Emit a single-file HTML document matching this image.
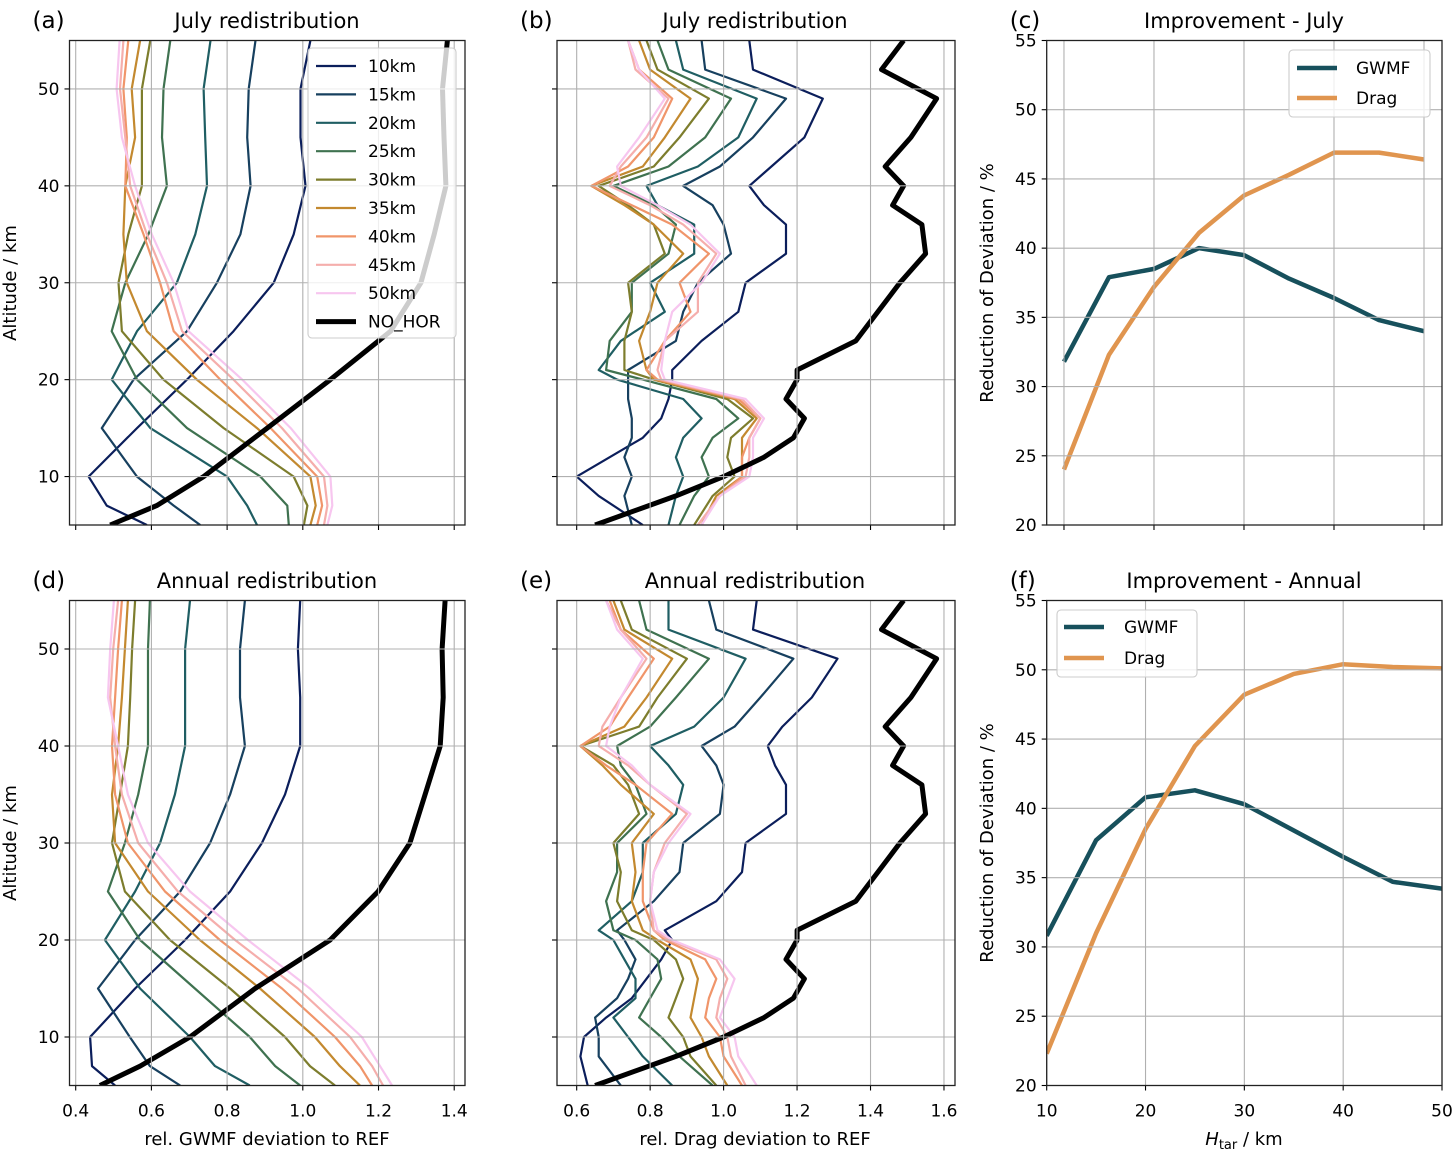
<!DOCTYPE html>
<html><head><meta charset="utf-8"><style>
html,body{margin:0;padding:0;background:#fff;}
svg{display:block;font-family:"DejaVu Sans","Liberation Sans",sans-serif;}
</style></head><body>
<svg id="fig" width="1454" height="1149" viewBox="0 0 1454 1149" xmlns="http://www.w3.org/2000/svg"></svg>
<script>
// ---- data ----
const altA = [5,7,10,15,20,25,30,35,40,45,50,55];
const altB = [5,8,10,12,14,16,18,20,21,24,27,30,33,36,38,40,42,45,49,52,55];
const htarLabels = ["10km","15km","20km","25km","30km","35km","40km","45km","50km"];
const colors = ["#0b1e5b","#17405f","#1f5e63","#3f7250","#7d7d2d","#c3892f","#f0956a","#f5aeac","#f7c6ef"];
// (a) July GWMF
const a10=[0.588,0.482,0.434,0.562,0.694,0.817,0.923,0.976,1.007,0.994,0.994,1.02];
const a15=[0.729,0.659,0.562,0.469,0.553,0.694,0.773,0.835,0.862,0.853,0.857,0.875];
const a20=[0.879,0.853,0.80,0.597,0.495,0.562,0.667,0.716,0.747,0.742,0.738,0.756];
const a25=[0.963,0.959,0.888,0.694,0.562,0.495,0.531,0.592,0.641,0.628,0.632,0.650];
const a30=[1.003,1.012,0.976,0.791,0.632,0.522,0.513,0.539,0.575,0.575,0.575,0.597];
const a35=[1.020,1.034,1.020,0.879,0.720,0.588,0.535,0.526,0.531,0.557,0.548,0.570];
const a40=[1.038,1.051,1.038,0.915,0.782,0.659,0.623,0.579,0.531,0.535,0.526,0.539];
const a45=[1.056,1.065,1.056,0.945,0.817,0.681,0.641,0.588,0.544,0.531,0.517,0.526];
const a50=[1.065,1.078,1.073,0.968,0.840,0.698,0.659,0.601,0.557,0.522,0.508,0.516];
const aNo=[0.491,0.614,0.738,0.906,1.073,1.232,1.312,1.347,1.378,1.373,1.369,1.382];
// (d) Annual GWMF
const d10=[0.504,0.443,0.438,0.557,0.689,0.808,0.892,0.953,0.993,0.993,0.987,0.993];
const d15=[0.676,0.596,0.543,0.459,0.557,0.676,0.755,0.808,0.847,0.834,0.834,0.847];
const d20=[0.860,0.768,0.702,0.570,0.477,0.557,0.623,0.662,0.689,0.689,0.689,0.702];
const d25=[0.993,0.927,0.860,0.715,0.570,0.485,0.530,0.565,0.591,0.591,0.591,0.596];
const d30=[1.085,1.019,0.953,0.808,0.649,0.530,0.496,0.517,0.538,0.544,0.549,0.557];
const d35=[1.151,1.098,1.032,0.887,0.728,0.591,0.504,0.496,0.512,0.522,0.530,0.538];
const d40=[1.183,1.151,1.085,0.945,0.781,0.636,0.538,0.504,0.496,0.504,0.512,0.522];
const d45=[1.212,1.183,1.125,0.987,0.821,0.670,0.565,0.522,0.504,0.491,0.499,0.512];
const d50=[1.236,1.204,1.156,1.019,0.855,0.702,0.591,0.538,0.512,0.485,0.491,0.501];
const dNo=[0.464,0.570,0.702,0.874,1.072,1.199,1.283,1.323,1.363,1.371,1.368,1.376];
// (b) July Drag
const b10=[0.78,0.66,0.60,0.69,0.78,0.83,0.85,0.86,0.86,0.94,1.04,1.06,1.17,1.17,1.11,1.07,1.13,1.22,1.27,1.08,1.07];
const b15=[0.75,0.73,0.75,0.73,0.75,0.75,0.74,0.74,0.74,0.87,0.89,0.93,1.02,1.00,0.97,0.89,0.99,1.08,1.17,0.95,0.94];
const b20=[0.85,0.87,0.89,0.87,0.89,0.94,0.89,0.71,0.66,0.72,0.84,0.80,0.92,0.92,0.82,0.79,0.93,1.04,1.09,0.89,0.87];
const b25=[0.88,0.92,0.96,0.94,0.97,1.04,0.98,0.78,0.68,0.69,0.75,0.75,0.85,0.87,0.81,0.70,0.85,0.95,1.02,0.85,0.82];
const b30=[0.92,0.97,1.03,1.01,1.02,1.08,1.01,0.81,0.73,0.73,0.75,0.74,0.84,0.81,0.74,0.66,0.81,0.88,0.96,0.82,0.79];
const b35=[0.94,0.98,1.05,1.05,1.05,1.09,1.03,0.81,0.79,0.77,0.80,0.82,0.89,0.81,0.73,0.64,0.78,0.84,0.91,0.80,0.77];
const b40=[0.93,0.99,1.05,1.05,1.07,1.10,1.04,0.82,0.79,0.84,0.91,0.88,0.96,0.86,0.75,0.64,0.74,0.81,0.86,0.77,0.74];
const b45=[0.93,0.99,1.06,1.07,1.07,1.10,1.05,0.83,0.82,0.84,0.93,0.93,0.98,0.89,0.80,0.69,0.72,0.79,0.85,0.76,0.74];
const b50=[0.94,0.99,1.07,1.08,1.08,1.11,1.06,0.84,0.83,0.84,0.86,0.94,0.99,0.91,0.82,0.72,0.71,0.77,0.84,0.77,0.74];
const bNo=[0.65,0.87,1.00,1.11,1.19,1.22,1.17,1.20,1.20,1.36,1.42,1.48,1.55,1.54,1.46,1.49,1.44,1.51,1.58,1.43,1.49];
// (e) Annual Drag
const e10=[0.63,0.61,0.62,0.68,0.75,0.79,0.83,0.86,0.84,0.98,1.05,1.06,1.17,1.17,1.14,1.12,1.16,1.24,1.31,1.08,1.09];
const e15=[0.72,0.66,0.66,0.65,0.71,0.74,0.76,0.73,0.71,0.81,0.88,0.89,0.99,1.00,0.98,0.94,1.03,1.10,1.19,0.98,0.96];
const e20=[0.86,0.78,0.74,0.70,0.76,0.76,0.73,0.70,0.66,0.75,0.78,0.78,0.87,0.89,0.85,0.80,0.92,1.00,1.06,0.85,0.85];
const e25=[0.97,0.88,0.83,0.77,0.80,0.83,0.82,0.76,0.70,0.68,0.71,0.71,0.79,0.76,0.72,0.71,0.80,0.87,0.96,0.79,0.77];
const e30=[0.98,0.91,0.89,0.85,0.87,0.89,0.87,0.81,0.75,0.71,0.72,0.70,0.77,0.74,0.70,0.61,0.77,0.82,0.90,0.75,0.72];
const e35=[1.01,0.96,0.94,0.91,0.92,0.93,0.91,0.82,0.78,0.75,0.76,0.75,0.81,0.72,0.67,0.61,0.73,0.79,0.86,0.73,0.70];
const e40=[1.05,1.00,0.99,0.95,0.96,0.98,0.95,0.84,0.81,0.78,0.78,0.79,0.86,0.76,0.68,0.61,0.69,0.74,0.81,0.72,0.69];
const e45=[1.06,1.02,1.01,0.98,0.99,1.01,0.98,0.85,0.81,0.80,0.81,0.84,0.90,0.80,0.74,0.66,0.67,0.72,0.79,0.72,0.68];
const e50=[1.09,1.04,1.03,0.99,1.01,1.03,0.99,0.86,0.82,0.80,0.81,0.85,0.91,0.80,0.75,0.68,0.69,0.72,0.78,0.71,0.68];
const eNo=[0.65,0.87,1.00,1.11,1.19,1.22,1.17,1.20,1.20,1.36,1.42,1.48,1.55,1.54,1.46,1.49,1.44,1.51,1.58,1.43,1.49];
// (c),(f) improvement
const htar = [10,15,20,25,30,35,40,45,50];
const cGwmf = [31.8,37.9,38.5,40.0,39.5,37.8,36.4,34.8,34.0];
const cDrag = [24.0,32.3,37.2,41.1,43.8,45.3,46.9,46.9,46.4];
const fGwmf = [30.8,37.7,40.8,41.3,40.3,38.4,36.5,34.7,34.2];
const fDrag = [22.3,31.0,38.5,44.5,48.2,49.7,50.4,50.2,50.1];
const xTicksA = [0.4,0.6,0.8,1.0,1.2,1.4];
const xTicksB = [0.6,0.8,1.0,1.2,1.4,1.6];
const yTicksAlt = [10,20,30,40,50];
const yTicksImp = [20,25,30,35,40,45,50,55];
const xTicksImp = [10,20,30,40,50];

// ---- drawing ----
const NS="http://www.w3.org/2000/svg";
const svg=document.getElementById('fig');
function mk(tag,attrs,parent){const e=document.createElementNS(NS,tag);for(const k in attrs)e.setAttribute(k,attrs[k]);(parent||svg).appendChild(e);return e;}
function txt(s,x,y,size,anchor,parent,extra){const t=mk('text',Object.assign({x:x,y:y,'font-size':size,'text-anchor':anchor||'start',fill:'#000'},extra||{}),parent);t.textContent=s;return t;}

function makePanel(id,x0,x1,y0,y1,xmin,xmax,ymin,ymax){
  const g=mk('g',{});
  
  
  const p={id,g,x0,x1,y0,y1,
    sx:v=>x0+(v-xmin)/(xmax-xmin)*(x1-x0),
    sy:v=>y1-(v-ymin)/(ymax-ymin)*(y1-y0)};
  const cp=mk('clipPath',{id:'clip-'+id},g);
  mk('rect',{x:x0,y:y0,width:x1-x0,height:y1-y0},cp);
  p.plot=mk('g',{'clip-path':'url(#clip-'+id+')'},g);
  return p;
}
function grid(p,xt,yt,xlabels,ylabels){
  const gg=mk('g',{},p.g);
  
  
  xt.forEach(v=>{const x=p.sx(v);mk('line',{x1:x,x2:x,y1:p.y0,y2:p.y1,stroke:'#b0b0b0','stroke-width':1.1},gg);
    mk('line',{x1:x,x2:x,y1:p.y1,y2:p.y1+5,stroke:'#000','stroke-width':1.1},p.g);
    if(xlabels){const t=txt(v.toFixed(xlabels),x,p.y1+31,17,'middle',p.g);
      
      }});
  yt.forEach(v=>{const y=p.sy(v);mk('line',{x1:p.x0,x2:p.x1,y1:y,y2:y,stroke:'#b0b0b0','stroke-width':1.1},gg);
    mk('line',{x1:p.x0-5,x2:p.x0,y1:y,y2:y,stroke:'#000','stroke-width':1.1},p.g);
    if(ylabels){const t=txt(String(v),p.x0-10,y+6,17,'end',p.g);
      
      }});
}
function frame(p){const r=mk('rect',{x:p.x0,y:p.y0,width:p.x1-p.x0,height:p.y1-p.y0,fill:'none',stroke:'#222','stroke-width':1.3},p.g);
  
  }
function profile(p,vals,alts,color,w,name){
  const d=vals.map((v,i)=>(i?'L':'M')+p.sx(v).toFixed(1)+','+p.sy(alts[i]).toFixed(1)).join('');
  const e=mk('path',{d:d,fill:'none',stroke:color,'stroke-width':w,'stroke-linejoin':'round'},p.plot);
  
  
}
function series(p,xs,ys,color,w,name){
  const d=xs.map((x,i)=>(i?'L':'M')+p.sx(x).toFixed(1)+','+p.sy(ys[i]).toFixed(1)).join('');
  const e=mk('path',{d:d,fill:'none',stroke:color,'stroke-width':w,'stroke-linejoin':'round'},p.plot);
  
  
}
function heads(p,letter,title,cx,ty){
  const a=txt(letter,33,ty,23,'start',p.g);
  
  
  const t=txt(title,cx,ty,21,'middle',p.g);
  
  
  a.setAttribute('x',p.x0-37);
}

const pa=makePanel('a',69.5,465,40.5,525,0.3836,1.4285,5,55);
const pb=makePanel('b',557,955,40.5,525,0.5464,1.630,5,55);
const pc=makePanel('c',1046.7,1442,40.5,525,8.08,52.0,20,55);
const pd=makePanel('d',69.5,465,600.5,1085.5,0.3836,1.4285,5,55);
const pe=makePanel('e',557,955,600.5,1085.5,0.5464,1.630,5,55);
const pf=makePanel('f',1046.7,1442,600.5,1085.5,10,50,20,55);

grid(pa,xTicksA,yTicksAlt,0,true);
grid(pb,xTicksB,yTicksAlt,0,false);
grid(pc,xTicksImp,yTicksImp,0,true);
grid(pd,xTicksA,yTicksAlt,1,true);
grid(pe,xTicksB,yTicksAlt,1,false);
grid(pf,xTicksImp,yTicksImp,null,true);
xTicksImp.forEach(v=>{const t=txt(String(v),pf.sx(v),pf.y1+31,17,'middle',pf.g);
  
  });

const setA=[a10,a15,a20,a25,a30,a35,a40,a45,a50];
const setD=[d10,d15,d20,d25,d30,d35,d40,d45,d50];
const setB=[b10,b15,b20,b25,b30,b35,b40,b45,b50];
const setE=[e10,e15,e20,e25,e30,e35,e40,e45,e50];
[[pa,setA,aNo,altA],[pd,setD,dNo,altA],[pb,setB,bNo,altB],[pe,setE,eNo,altB]].forEach(([p,set,no,alts])=>{
  set.forEach((vals,i)=>profile(p,vals,alts,colors[i],2.2,'profile-'+htarLabels[i]));
  profile(p,no,alts,'#000',5,'profile-no-hor');
});
const gw='#17505c', dr='#e0954f';
series(pc,htar,cGwmf,gw,4.5,'gwmf-line');
series(pc,htar,cDrag,dr,4.5,'drag-line');
series(pf,htar,fGwmf,gw,4.5,'gwmf-line');
series(pf,htar,fDrag,dr,4.5,'drag-line');
[pa,pb,pc,pd,pe,pf].forEach(frame);

heads(pa,'(a)','July redistribution',267,28);
heads(pb,'(b)','July redistribution',755,28);
heads(pc,'(c)','Improvement - July',1244,28);
heads(pd,'(d)','Annual redistribution',267,588);
heads(pe,'(e)','Annual redistribution',755,588);
heads(pf,'(f)','Improvement - Annual',1244,588);

function rotLabel(s,x,y,name){const t=txt(s,x,y,18,'middle',svg,{transform:'rotate(-90 '+x+' '+y+')'});
  
  }
rotLabel('Altitude / km',16,283,'y-axis-title-a');
rotLabel('Altitude / km',16,843,'y-axis-title-d');
rotLabel('Reduction of Deviation / %',993,283,'y-axis-title-c');
rotLabel('Reduction of Deviation / %',993,843,'y-axis-title-f');
let xl=txt('rel. GWMF deviation to REF',267,1145,18,'middle');


xl=txt('rel. Drag deviation to REF',755,1145,18,'middle');


xl=txt('',1244,1145,18,'middle');
xl.innerHTML='<tspan font-style="italic">H</tspan><tspan font-size="13" dy="4">tar</tspan><tspan dy="-4"> / km</tspan>';



function legendBox(x,y,w,h,name){const r=mk('rect',{x:x,y:y,width:w,height:h,rx:4,fill:'#fff','fill-opacity':0.8,stroke:'#cccccc','stroke-width':1.1});
  
  }
function legendEntry(x,y,color,w,label,tx){const g=mk('g',{});
  
  
  mk('line',{x1:x,x2:x+40,y1:y,y2:y,stroke:color,'stroke-width':w},g);
  txt(label,tx,y+6,17,'start',g);}
legendBox(308,48,148,290,'legend-a');
htarLabels.forEach((l,i)=>legendEntry(316,66+i*28.4,colors[i],2.2,l,368));
legendEntry(316,66+9*28.4,'#000',5,'NO_HOR',368);
legendBox(1289,50,141,67,'legend-c');
legendEntry(1297,68,gw,4.5,'GWMF',1356);
legendEntry(1297,98,dr,4.5,'Drag',1356);
legendBox(1057,610,140,67,'legend-f');
legendEntry(1064,627,gw,4.5,'GWMF',1124);
legendEntry(1064,658,dr,4.5,'Drag',1124);
</script>
</body></html>
